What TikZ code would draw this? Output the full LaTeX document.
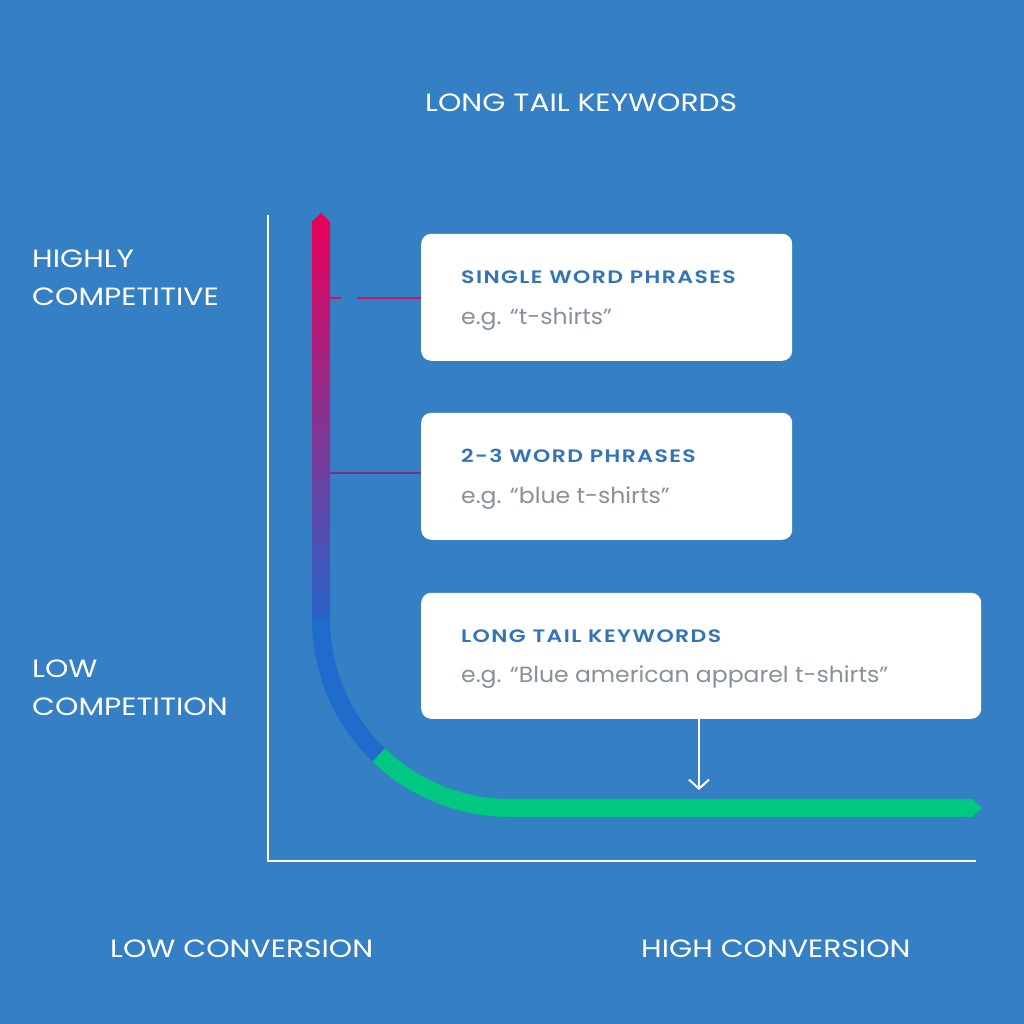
\documentclass[tikz,border=0pt]{standalone}
\usepackage{fontspec}
\setmainfont{Poppins}
\newfontfamily\labelfont[FakeStretch=1.19]{Poppins}
\newfontfamily\bodyfont[FakeStretch=1.07]{Poppins}
\newfontfamily\titlefont[LetterSpace=8,FakeStretch=1.22]{Poppins SemiBold}
\usetikzlibrary{arrows.meta}
\definecolor{bg}{RGB}{53,127,197}
\definecolor{ctop}{RGB}{232,0,90}
\definecolor{cmid}{RGB}{150,35,125}
\definecolor{cbot}{RGB}{40,100,200}
\definecolor{carc}{RGB}{32,108,204}
\definecolor{cgreen}{RGB}{0,200,128}
\definecolor{conn1}{RGB}{200,25,105}
\definecolor{conn2}{RGB}{125,45,140}
\definecolor{ttl}{RGB}{50,115,185}
\definecolor{gry}{RGB}{135,145,155}
\tikzset{
  card/.style={fill=white, rounded corners=10pt, inner sep=0pt, anchor=south west},
  wlabel/.style={text=white, anchor=base west, inner sep=0pt, font=\labelfont\fontsize{25}{29}\selectfont},
  ctitle/.style={text=ttl, anchor=base west, inner sep=0pt, font=\titlefont\fontsize{18}{22}\selectfont},
  cbody/.style={text=gry, anchor=base west, inner sep=0pt, font=\bodyfont\fontsize{22}{26}\selectfont},
  axis/.style={white, line width=1.5pt},
  conn/.style={line width=2.5pt},
}
\begin{document}
\begin{tikzpicture}[x=1pt,y=1pt]
\useasboundingbox (0,0) rectangle (1024,1024);
\fill[bg] (0,0) rectangle (1024,1024);

% header and side labels
\node[wlabel] (hdr) at (425,912) {LONG TAIL KEYWORDS};
\node[wlabel] (hc1) at (32,756) {HIGHLY};
\node[wlabel] (hc2) at (32,718) {COMPETITIVE};
\node[wlabel] (lc1) at (32,346) {LOW};
\node[wlabel] (lc2) at (32,308) {COMPETITION};
\node[wlabel] (lcv) at (110,66) {LOW CONVERSION};
\node[wlabel] (hcv) at (641,66) {HIGH CONVERSION};

% axes
\coordinate (ytop) at (268,809);
\coordinate (orig) at (268,163);
\coordinate (xend) at (976,163);
\draw[axis] (ytop) -- (orig) -- (xend);

% curve
\shade[top color=ctop, middle color=cmid, bottom color=cbot] (312,405) rectangle (330,802.5);
\fill[ctop] (312,802) -- (321,811) -- (330,802) -- cycle;
\draw[carc, line width=18pt] (321,405.5) -- (321,405) arc[start angle=180, end angle=227, radius=189];
\draw[cgreen, line width=18pt] (510,405) ++(226:189) arc[start angle=226, end angle=270, radius=189] -- (973,216);
\fill[cgreen] (972,207) -- (982,216) -- (972,225) -- cycle;

% cards
\node[card, minimum width=371pt, minimum height=127pt] (box1) at (421,663) {};
\node[card, minimum width=371pt, minimum height=127pt] (box2) at (421,484) {};
\node[card, minimum width=560pt, minimum height=126pt] (box3) at (421,305) {};

\node[ctitle] (t1) at (461,740) {SINGLE WORD PHRASES};
\node[cbody] (b1) at (461,699) {e.g. “t-shirts”};
\node[ctitle] (t2) at (461,561) {2-3 WORD PHRASES};
\node[cbody] (b2) at (461,520) {e.g. “blue t-shirts”};
\node[ctitle] (t3) at (461,381) {LONG TAIL KEYWORDS};
\node[cbody] (b3) at (461,341) {e.g. “Blue american apparel t-shirts”};

% connectors
\coordinate (c1) at (330,726);
\coordinate (c2) at (330,551);
\draw[conn, conn1, dash pattern=on 11pt off 16pt on 200pt] (c1) -- (box1.west |- c1);
\draw[conn, conn2] (c2) -- (box2.west |- c2);

% arrow
\coordinate (a1) at (699,234);
\draw[white, line width=2pt, -{Straight Barb[length=9pt, width=20pt, line width=2pt]}] (a1 |- box3.south) -- (a1);
\end{tikzpicture}
\end{document}
